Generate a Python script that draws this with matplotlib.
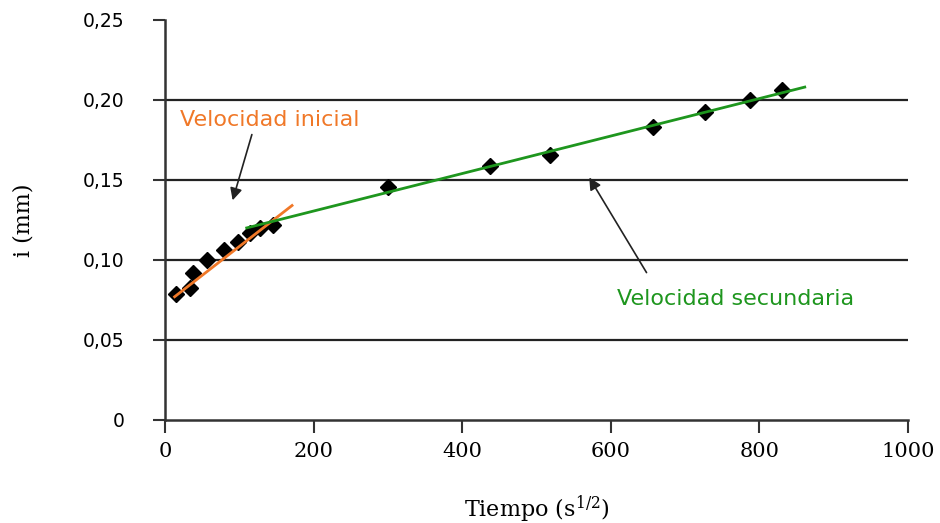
import numpy as np
import matplotlib
matplotlib.use("Agg")
import matplotlib.pyplot as plt
from matplotlib.ticker import FixedLocator, FixedFormatter

plt.rcParams["mathtext.fontset"] = "dejavuserif"

# ensayo de consolidacion: deformacion vs raiz del tiempo
tiempo = [15, 34, 38, 57, 79, 98, 114, 128, 145,
          300, 437, 518, 657, 727, 787, 830]
deform = [0.079, 0.0825, 0.092, 0.100, 0.106, 0.111, 0.117, 0.120, 0.122,
          0.1456, 0.159, 0.1656, 0.183, 0.1925, 0.200, 0.206]

# rectas de ajuste (extremos)
ini_x = [13, 171]
ini_y = [0.077, 0.134]
sec_x = [110, 861]
sec_y = [0.120, 0.208]

yticks = [0, 0.05, 0.10, 0.15, 0.20, 0.25]
ylabels = ["0", "0,05", "0,10", "0,15", "0,20", "0,25"]
xticks = [0, 200, 400, 600, 800, 1000]

naranja = "#f07828"
verde = "#1e961e"

fig = plt.figure(figsize=(9.4, 5.23), dpi=100)
ax = fig.add_axes([0.1755, 0.197, 0.7905, 0.765])

ax.set_xlim(0, 1000)
ax.set_ylim(0, 0.25)

# lineas horizontales
for yv in yticks[1:-1]:
    ax.axhline(yv, color="#222222", lw=1.6, zorder=1)

ax.plot(ini_x, ini_y, color=naranja, lw=2, zorder=3)
ax.plot(sec_x, sec_y, color=verde, lw=2, zorder=3)
ax.plot(tiempo, deform, "D", color="black", ms=8, zorder=2)

for s in ["top", "right"]:
    ax.spines[s].set_visible(False)
for s in ["left", "bottom"]:
    ax.spines[s].set_color("#333333")
    ax.spines[s].set_linewidth(1.8)

ax.yaxis.set_major_locator(FixedLocator(yticks))
ax.yaxis.set_major_formatter(FixedFormatter(ylabels))
ax.set_xticks(xticks)
ax.tick_params(axis="both", direction="out", length=9, width=1.5,
               color="#333333")
ax.tick_params(axis="y", pad=20)
ax.tick_params(axis="x", pad=7)
for lab in ax.get_yticklabels():
    lab.set_fontfamily("DejaVu Sans")
    lab.set_fontsize(13.5)
for lab in ax.get_xticklabels():
    lab.set_fontfamily("DejaVu Serif")
    lab.set_fontsize(15)

ax.set_xlabel("Tiempo (s$^{1/2}$)", fontfamily="DejaVu Serif",
              fontsize=16, labelpad=23)
ax.set_ylabel("i (mm)", fontfamily="DejaVu Serif", fontsize=16,
              labelpad=35)

# anotaciones
ax.annotate("", xy=(90, 0.1356), xytext=(118, 0.180),
            arrowprops=dict(arrowstyle="-|>", color="#222222", lw=1.2,
                            mutation_scale=18))
ax.text(20, 0.1875, "Velocidad inicial", color=naranja, fontsize=16,
        va="center", ha="left")
ax.annotate("", xy=(569, 0.153), xytext=(650, 0.0906),
            arrowprops=dict(arrowstyle="-|>", color="#222222", lw=1.2,
                            mutation_scale=18))
ax.text(608, 0.0756, "Velocidad secundaria", color=verde, fontsize=16,
        va="center", ha="left")

fig.savefig("out.png", dpi=100)
